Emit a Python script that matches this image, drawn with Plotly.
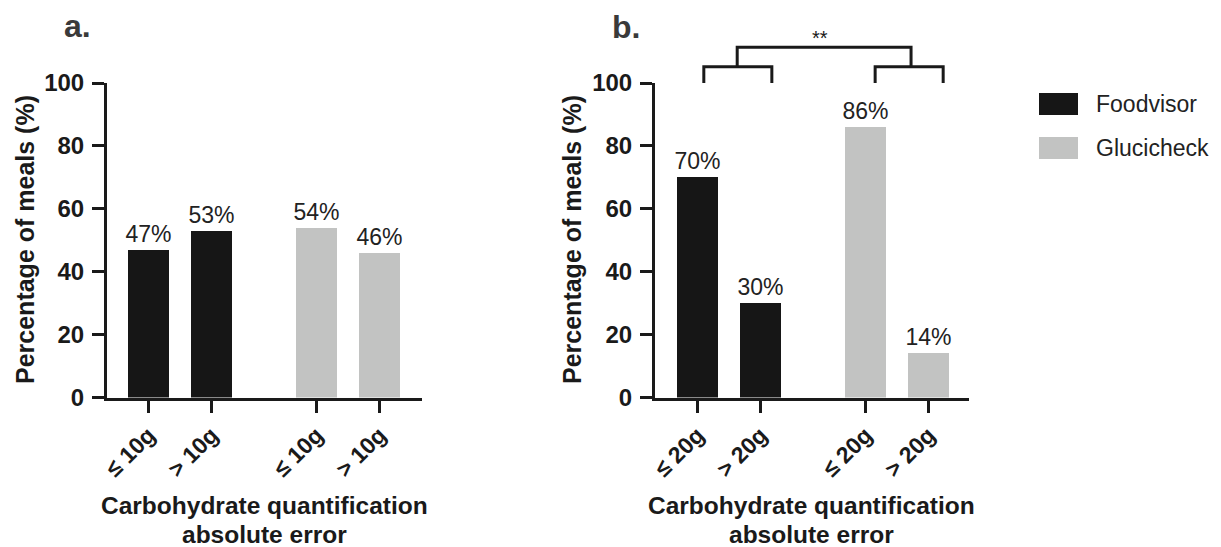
import plotly.graph_objects as go

# ---------------- data ----------------
devices = ["Foodvisor", "Glucicheck"]
colors = ["#161616", "#c2c3c2"]
ticks_a = ["≤ 10g", "> 10g"]
ticks_b = ["≤ 20g", "> 20g"]
foodvisor_a = [47, 53]
glucicheck_a = [54, 46]
foodvisor_b = [70, 30]
glucicheck_b = [86, 14]

FONT = "Liberation Sans, Arial, Helvetica, sans-serif"
W, H = 1221, 547
GROUP_EXTRA = 0.667
BAR_W = 0.65

DOM = {"a": (107 / W, 422 / W), "b": (655 / W, 969 / W)}
XR = {"a": (-0.66, 4.34), "b": (-0.675, 4.31)}
Y_D = (1 - 397.5 / H, 1 - 83 / H)


def pos(g, i, n=2):
    return g * (n + GROUP_EXTRA) + i


def xp(panel, xv):
    d0, d1 = DOM[panel]
    r0, r1 = XR[panel]
    return d0 + (xv - r0) / (r1 - r0) * (d1 - d0)


def yp(yv):
    return Y_D[0] + yv / 100 * (Y_D[1] - Y_D[0])


fig = go.Figure()

panels = [("a", "x", "y", ticks_a, [foodvisor_a, glucicheck_a]),
          ("b", "x2", "y2", ticks_b, [foodvisor_b, glucicheck_b])]

for panel, xa, ya, ticks, series in panels:
    tickvals, ticktext = [], []
    for g, (name, vals, col) in enumerate(zip(devices, series, colors)):
        xs = [pos(g, i, len(vals)) for i in range(len(vals))]
        tickvals += xs
        ticktext += ticks
        fig.add_trace(go.Bar(
            x=xs, y=vals, name=name, width=BAR_W,
            marker=dict(color=col, line=dict(width=0)),
            texttemplate="%{y}%", textposition="outside",
            textfont=dict(family=FONT, size=23, color="#222222"),
            constraintext="none", cliponaxis=False,
            xaxis=xa, yaxis=ya, showlegend=False, hoverinfo="skip"))
    axkey = "xaxis" if xa == "x" else "xaxis2"
    aykey = "yaxis" if ya == "y" else "yaxis2"
    fig.layout[axkey] = dict(
        domain=DOM[panel], range=XR[panel], anchor=ya, automargin=False,
        tickvals=tickvals, ticktext=ticktext, tickangle=-45,
        tickfont=dict(family=FONT, size=23, color="#1a1a1a", weight="bold"),
        showline=True, linewidth=3, linecolor="#1a1a1a",
        ticks="outside", ticklen=12, tickwidth=3, tickcolor="#1a1a1a",
        showgrid=False, zeroline=False, fixedrange=True)
    fig.layout[aykey] = dict(
        domain=Y_D, range=[0, 100], anchor=xa, automargin=False,
        tickvals=[0, 20, 40, 60, 80, 100],
        tickfont=dict(family=FONT, size=24, color="#1a1a1a", weight="bold"),
        showline=True, linewidth=3, linecolor="#1a1a1a",
        ticks="outside", ticklen=12, tickwidth=3, tickcolor="#1a1a1a",
        ticklabelstandoff=3,
        showgrid=False, zeroline=False, fixedrange=True)

annotations = []
# y-axis titles
for xpx in (25, 572):
    annotations.append(dict(
        x=xpx / W, y=1 - 240 / H, xref="paper", yref="paper",
        text="<b>Percentage of meals (%)</b>", textangle=-90, showarrow=False,
        font=dict(family=FONT, size=25, color="#1a1a1a"),
        xanchor="center", yanchor="middle"))
# x-axis titles
for panel in ("a", "b"):
    cx = (DOM[panel][0] + DOM[panel][1]) / 2
    for txt, ypx in (("Carbohydrate quantification", 505), ("absolute error", 534)):
        annotations.append(dict(
            x=cx, y=1 - ypx / H, xref="paper", yref="paper",
            text="<b>" + txt + "</b>", showarrow=False,
            font=dict(family=FONT, size=24.5, color="#1a1a1a"),
            xanchor="center", yanchor="middle"))
# panel letters
for txt, xpx, ypx in (("a.", 77, 26), ("b.", 626, 27)):
    annotations.append(dict(
        x=xpx / W, y=1 - ypx / H, xref="paper", yref="paper",
        text="<b>" + txt + "</b>", showarrow=False,
        font=dict(family=FONT, size=32, color="#3a3a3a"),
        xanchor="center", yanchor="middle"))

shapes = []
# legend (drawn manually for large swatches)
for k, (name, col) in enumerate(zip(devices, colors)):
    top = 93 + 44 * k
    shapes.append(dict(type="rect", xref="paper", yref="paper",
                       x0=1039 / W, x1=1078 / W, y0=1 - (top + 22) / H, y1=1 - top / H,
                       fillcolor=col, line=dict(width=0)))
    annotations.append(dict(
        x=1094 / W, y=1 - (top + 11) / H, xref="paper", yref="paper",
        text=name, showarrow=False, xanchor="left", yanchor="middle",
        font=dict(family=FONT, size=23, color="#222222")))

# significance bracket in panel b
LEG_TOP, BR_TOP = 105.2, 111.4
lw = dict(color="#1a1a1a", width=3)
for (l, r) in ((0.10, 1.18), (2.82, 3.90)):
    shapes.append(dict(type="path", xref="paper", yref="paper",
                       path=f"M {xp('b', l)} {yp(100)} L {xp('b', l)} {yp(LEG_TOP)} "
                            f"L {xp('b', r)} {yp(LEG_TOP)} L {xp('b', r)} {yp(100)}",
                       line=lw))
shapes.append(dict(type="path", xref="paper", yref="paper",
                   path=f"M {xp('b', 0.63)} {yp(LEG_TOP)} L {xp('b', 0.63)} {yp(BR_TOP)} "
                        f"L {xp('b', 3.39)} {yp(BR_TOP)} L {xp('b', 3.39)} {yp(LEG_TOP)}",
                   line=lw))
annotations.append(dict(
    x=xp("b", 1.94), y=1 - 38 / H, xref="paper", yref="paper",
    text="**", showarrow=False, xanchor="center", yanchor="middle",
    font=dict(family=FONT, size=20, color="#1a1a1a")))

fig.update_layout(
    width=W, height=H, margin=dict(l=0, r=0, t=0, b=0),
    paper_bgcolor="white", plot_bgcolor="white",
    showlegend=False, bargap=0,
    annotations=annotations, shapes=shapes,
    font=dict(family=FONT))

fig.write_html("out.html", config={"displayModeBar": False})
